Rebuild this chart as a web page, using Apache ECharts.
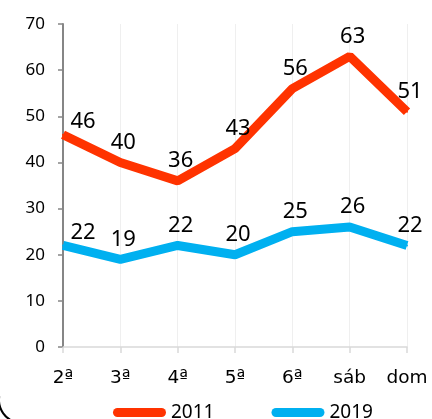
<!DOCTYPE html>
<html>
<head>
<meta charset="utf-8">
<script src="https://cdn.jsdelivr.net/npm/echarts@6/dist/echarts.min.js"></script>
<style>
  html, body { margin: 0; padding: 0; background: #fff; }
  #main { width: 432px; height: 419px; }
</style>
</head>
<body>
<div id="main"></div>
<script>
// dias da semana
var days = ['2ª', '3ª', '4ª', '5ª', '6ª', 'sáb', 'dom'];
var values2011 = [46, 40, 36, 43, 56, 63, 51];
var values2019 = [22, 19, 22, 20, 25, 26, 22];
var seriesNames = ['2011', '2019'];
var yTicks = [0, 10, 20, 30, 40, 50, 60, 70];

var chart = echarts.init(document.getElementById('main'));
var FONT = '"Noto Sans", sans-serif';
var AXFONT = '"DejaVu Sans", sans-serif';

// primeiro rótulo deslocado para a direita (como no original)
function withLabels(vals) {
  return vals.map(function (v, i) {
    if (i === 0) return { value: v, label: { offset: [20, 7] } };
    return { value: v, label: { offset: [3, 0] } };
  });
}

function makeSeries(name, vals, color) {
  return {
    name: name,
    type: 'line',
    data: withLabels(vals),
    showSymbol: true,
    symbol: 'circle',
    symbolSize: 2,
    itemStyle: { color: color },
    lineStyle: { color: color, width: 9 },
    label: {
      show: true,
      position: 'top',
      distance: 8,
      color: '#000',
      fontSize: 22,
      fontFamily: FONT
    },
    emphasis: { disabled: true },
    animation: false
  };
}

var option = {
  backgroundColor: '#fff',
  grid: { left: 63, right: 25, top: 24, bottom: 72 },
  xAxis: {
    type: 'category',
    data: days,
    boundaryGap: false,
    axisLine: { lineStyle: { color: '#d9d9d9', width: 1.5 } },
    axisTick: { show: true, length: 6, lineStyle: { color: '#d9d9d9', width: 1.5 } },
    splitLine: { show: true, lineStyle: { color: '#efefef', width: 1 } },
    axisLabel: { color: '#000', fontSize: 18.5, fontFamily: AXFONT, margin: 22 }
  },
  yAxis: {
    type: 'value',
    min: yTicks[0],
    max: yTicks[yTicks.length - 1],
    interval: yTicks[1] - yTicks[0],
    axisLine: { show: true, lineStyle: { color: '#868686', width: 2 } },
    axisTick: { show: true, length: 5, lineStyle: { color: '#868686', width: 1.5 } },
    splitLine: { show: false },
    axisLabel: { color: '#000', fontSize: 17, fontFamily: FONT, margin: 18 }
  },
  legend: {
    data: seriesNames,
    top: 398,
    left: 108,
    itemWidth: 53,
    itemHeight: 9,
    itemGap: 57,
    icon: 'path://M4.5,0 H48.5 A4.5,4.5 0 0 1 48.5,9 H4.5 A4.5,4.5 0 0 1 4.5,0 Z',
    textStyle: { color: '#000', fontSize: 19, fontFamily: FONT },
    selectedMode: false
  },
  graphic: [
    {
      type: 'arc',
      shape: { cx: 22, cy: 400, r: 23, startAngle: 1.75, endAngle: 3.3 },
      style: { stroke: '#000', lineWidth: 2, fill: null },
      silent: true
    }
  ],
  series: [
    makeSeries(seriesNames[0], values2011, '#FF3300'),
    makeSeries(seriesNames[1], values2019, '#00B0F0')
  ]
};

chart.setOption(option);
</script>
</body>
</html>
